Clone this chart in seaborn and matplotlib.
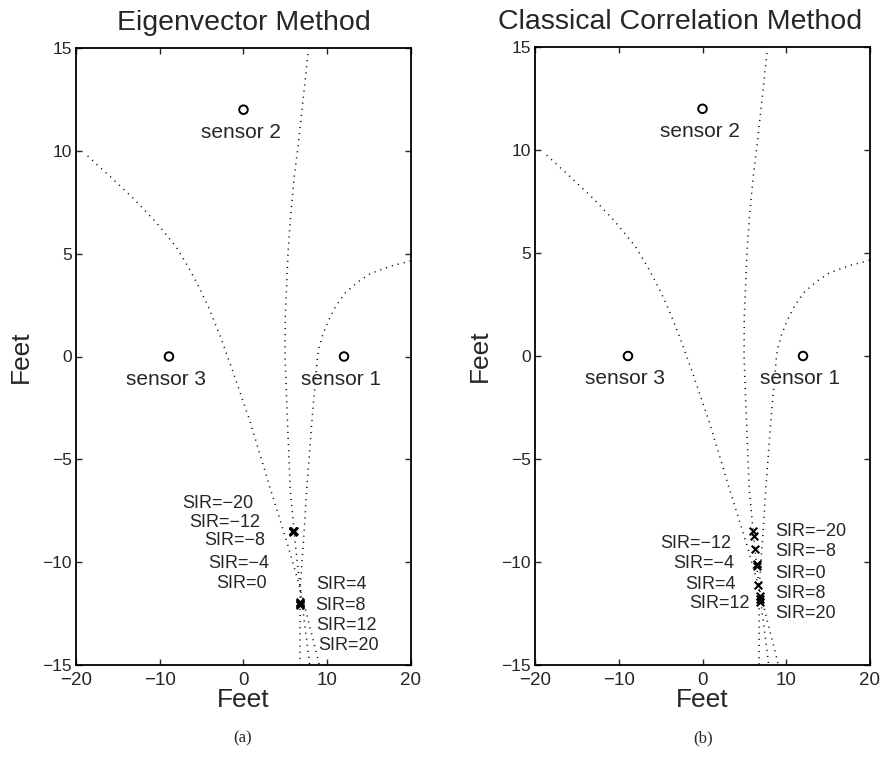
import matplotlib
matplotlib.use("Agg")
import matplotlib.pyplot as plt
import seaborn as sns

# ---------------- data ----------------
sensor_x = [12.0, 0.0, -8.9]
sensor_y = [0.0, 12.0, 0.0]
sensor_names = ["sensor 1", "sensor 2", "sensor 3"]

# hyperbolic TDOA curves (same in both panels)
curve1_x = [-18.61, -15.82, -13.03, -10.41, -8.02, -6.55, -5.19, -4.0, -2.61, -1.97,
            -1.4, 0.79, 3.18, 5.17, 6.76, 8.76, 9.05]
curve1_y = [9.75, 8.71, 7.64, 6.51, 5.32, 4.32, 3.28, 2.23, 0.80, 0.07,
            -0.57, -3.17, -6.4, -9.0, -11.27, -14.5, -15.0]
curve2_x = [7.78, 7.06, 6.55, 6.07, 5.63, 5.31, 5.15, 4.99, 4.96, 5.25, 5.57, 6.16,
            6.76, 7.76, 7.9]
curve2_y = [15.0, 12.28, 10.36, 8.77, 6.88, 4.98, 3.44, 1.94, 0.0, -3.17, -6.4, -9.0,
            -11.27, -14.5, -15.0]
curve3_x = [19.95, 19.68, 17.61, 15.14, 13.63, 12.16, 11.04, 10.17, 9.45, 8.94, 8.82,
            8.16, 7.56, 7.16, 6.76, 6.76, 6.75]
curve3_y = [4.65, 4.61, 4.40, 4.03, 3.62, 3.10, 2.47, 1.77, 1.04, 0.31, -0.09,
            -3.17, -6.4, -9.0, -11.27, -14.5, -15.0]

# (a) Eigenvector method: location estimates for each SIR (dB)
eig_sir = [-20, -12, -8, -4, 0, 4, 8, 12, 20]
eig_est_x = [5.96, 5.96, 5.97, 5.96, 5.98, 6.75, 6.77, 6.80, 6.76]
eig_est_y = [-8.5, -8.5, -8.52, -8.5, -8.48, -11.95, -12.05, -12.1, -12.0]

eig_lab_left = ["SIR=\u221220", "SIR=\u221212", "SIR=\u22128", "SIR=\u22124", "SIR=0"]
eig_lab_left_x = [1.15, 1.98, 2.58, 3.06, 2.82]
eig_lab_left_y = [-7.13, -8.08, -8.95, -10.05, -11.06]
eig_lab_right = ["SIR=4", "SIR=8", "SIR=12", "SIR=20"]
eig_lab_right_x = [8.64, 8.57, 8.64, 8.92]
eig_lab_right_y = [-11.1, -12.11, -13.08, -14.07]

# (b) Classical correlation method
cc_sir = [-20, -12, -8, -4, 0, 4, 8, 12, 20]
cc_est_x = [6.05, 6.10, 6.30, 6.45, 6.50, 6.67, 6.85, 6.90, 6.92]
cc_est_y = [-8.5, -8.75, -9.35, -10.1, -10.2, -11.1, -11.65, -11.8, -11.95]

cc_lab_left = ["SIR=\u221212", "SIR=\u22124", "SIR=4", "SIR=12"]
cc_lab_left_x = [3.4, 3.76, 4.0, 5.67]
cc_lab_left_y = [-9.09, -10.06, -11.08, -12.0]
cc_lab_right = ["SIR=\u221220", "SIR=\u22128", "SIR=0", "SIR=8", "SIR=20"]
cc_lab_right_x = [8.66, 8.66, 8.66, 8.66, 8.66]
cc_lab_right_y = [-8.53, -9.5, -10.55, -11.52, -12.49]

x_ticks = [-20, -10, 0, 10, 20]
y_ticks = [-15, -10, -5, 0, 5, 10, 15]
titles = ["Eigenvector Method", "Classical Correlation Method"]
captions = ["(a)", "(b)"]

# ---------------- style ----------------
sns.set_theme(style="ticks")
plt.rcParams["font.family"] = ["Liberation Sans", "DejaVu Sans"]
plt.rcParams.update({
    "xtick.direction": "in", "ytick.direction": "in",
    "xtick.top": True, "ytick.right": True,
    "xtick.major.size": 4, "ytick.major.size": 4,
    "xtick.major.width": 1.0, "ytick.major.width": 1.0,
    "axes.linewidth": 1.3, "axes.edgecolor": "black",
})

fig = plt.figure(figsize=(8.9, 7.57), dpi=100)
ax_a = fig.add_axes([76 / 890, 92 / 757, 335 / 890, 617 / 757])
ax_b = fig.add_axes([535 / 890, 92 / 757, 335 / 890, 618 / 757])

dot_style = dict(color="black", linewidth=1.1, linestyle=(0, (0.7, 3.3)))
curves = [(curve1_x, curve1_y), (curve2_x, curve2_y), (curve3_x, curve3_y)]


def draw_panel(ax, est_x, est_y, lab_l, lab_lx, lab_ly, lab_r, lab_rx, lab_ry,
               title, title_x, caption, cap_x):
    for cx, cy in curves:
        sns.lineplot(x=cx, y=cy, sort=False, estimator=None, ax=ax, **dot_style)
    sns.scatterplot(x=sensor_x, y=sensor_y, ax=ax, marker="o", s=38,
                    facecolor="none", edgecolor="black", linewidth=1.4, zorder=3)
    for sx, sy, name in zip(sensor_x, sensor_y, sensor_names):
        ax.text(sx - 0.3, sy - 1.1, name, ha="center", va="center", fontsize=15)
    sns.scatterplot(x=est_x, y=est_y, ax=ax, marker="x", s=30, color="black",
                    linewidth=1.5, zorder=4)
    for t, tx, ty in zip(lab_l, lab_lx, lab_ly):
        ax.text(tx, ty, t, ha="right", va="center", fontsize=13)
    for t, tx, ty in zip(lab_r, lab_rx, lab_ry):
        ax.text(tx, ty, t, ha="left", va="center", fontsize=13)
    ax.set_xlim(-20, 20)
    ax.set_ylim(-15, 15)
    ax.set_xticks(x_ticks)
    ax.set_yticks(y_ticks)
    ax.tick_params(axis="x", labelsize=13.5, pad=5)
    ax.tick_params(axis="y", labelsize=12.5, pad=3)
    for s in ax.spines.values():
        s.set_visible(True)
    ax.set_xlabel("Feet", fontsize=19)
    ax.set_ylabel("Feet", fontsize=19)
    ax.xaxis.set_label_coords(0.5, -0.038)
    ax.yaxis.set_label_coords(-0.13, 0.5)
    ax.text(title_x, 1.0 + 25 / 617, title, transform=ax.transAxes,
            ha="center", va="center", fontsize=20.5)
    fig.text(cap_x, 1 - 738 / 757, caption, ha="center", va="center",
             fontsize=12, family="Liberation Serif")


draw_panel(ax_a, eig_est_x, eig_est_y, eig_lab_left, eig_lab_left_x, eig_lab_left_y,
           eig_lab_right, eig_lab_right_x, eig_lab_right_y,
           titles[0], 0.5, captions[0], 243 / 890)
draw_panel(ax_b, cc_est_x, cc_est_y, cc_lab_left, cc_lab_left_x, cc_lab_left_y,
           cc_lab_right, cc_lab_right_x, cc_lab_right_y,
           titles[1], 0.433, captions[1], 703 / 890)

fig.savefig("out.png", dpi=100, facecolor="white")
